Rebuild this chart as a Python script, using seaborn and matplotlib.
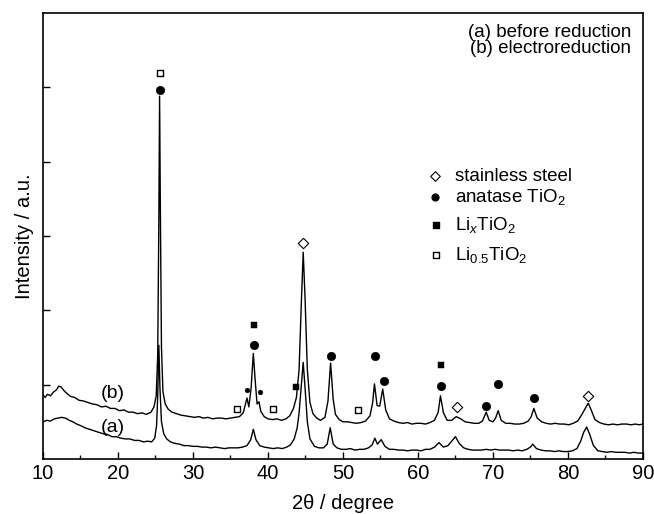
import matplotlib
matplotlib.use("Agg")
import matplotlib.pyplot as plt
import seaborn as sns
import pandas as pd

two_theta_b = [10.0, 10.3, 10.6, 11.0, 11.4, 11.8, 12.1, 12.4, 12.8, 13.2, 13.7, 14.2, 14.8, 15.4,
               16.0, 16.6, 17.2, 17.8, 18.4, 19.0, 19.6, 20.2, 20.8, 21.4, 22.0, 22.6, 23.2, 23.8,
               24.4, 24.8, 25.1, 25.3, 25.45, 25.55, 25.65, 25.8, 26.0, 26.3, 26.7, 27.2, 27.8,
               28.4, 29.0, 29.6, 30.2, 30.8, 31.4, 32.0, 32.6, 33.2, 33.8, 34.4, 35.0, 35.6, 36.2,
               36.7, 37.0, 37.2, 37.45, 37.75, 38.05, 38.3, 38.55, 38.8, 39.05, 39.5, 40.0, 40.6,
               41.2, 41.8, 42.4, 42.9, 43.4, 43.8, 44.15, 44.45, 44.7, 44.95, 45.25, 45.6, 46.0,
               46.5, 47.0, 47.6, 48.0, 48.35, 48.7, 49.0, 49.5, 50.0, 50.6, 51.2, 51.8, 52.4, 53.0,
               53.6, 53.95, 54.2, 54.55, 54.9, 55.3, 55.7, 56.2, 56.8, 57.4, 58.0, 58.6, 59.2, 59.8,
               60.4, 61.0, 61.6, 62.2, 62.7, 63.0, 63.4, 63.9, 64.5, 65.1, 65.7, 66.3, 66.9, 67.5,
               68.1, 68.6, 69.1, 69.5, 70.0, 70.35, 70.7, 71.1, 71.7, 72.3, 72.9, 73.5, 74.1, 74.7,
               75.1, 75.45, 75.9, 76.5, 77.1, 77.7, 78.3, 78.9, 79.5, 80.1, 80.7, 81.3, 81.8, 82.3,
               82.7, 83.1, 83.6, 84.2, 84.8, 85.4, 86.0, 86.6, 87.2, 87.8, 88.4, 89.0, 89.5, 90.0]
intensity_b = [0.86, 0.83, 0.87, 0.85, 0.90, 0.93, 0.98, 0.97, 0.92, 0.88, 0.84, 0.83, 0.79, 0.78,
               0.76, 0.74, 0.73, 0.70, 0.71, 0.68, 0.68, 0.65, 0.66, 0.63, 0.63, 0.61, 0.62, 0.60,
               0.63, 0.70, 0.85, 1.40, 3.20, 4.88, 3.40, 1.50, 0.90, 0.74, 0.67, 0.63, 0.61,
               0.59, 0.58, 0.57, 0.56, 0.57, 0.55, 0.56, 0.54, 0.55, 0.55, 0.54, 0.55, 0.56, 0.57,
               0.62, 0.74, 0.82, 0.70, 0.95, 1.42, 1.05, 0.74, 0.77, 0.64, 0.57, 0.54, 0.53,
               0.54, 0.52, 0.54, 0.58, 0.68, 0.83, 1.20, 2.10, 2.78, 2.15, 1.20, 0.76, 0.61,
               0.55, 0.52, 0.56, 0.78, 1.29, 0.80, 0.60, 0.53, 0.50, 0.50, 0.49, 0.48, 0.49, 0.51,
               0.58, 0.75, 1.01, 0.72, 0.71, 0.94, 0.66, 0.54, 0.51, 0.49, 0.48, 0.49, 0.47, 0.48,
               0.48, 0.47, 0.49, 0.52, 0.63, 0.85, 0.62, 0.52, 0.52, 0.57, 0.54, 0.50, 0.49, 0.48,
               0.48, 0.51, 0.63, 0.52, 0.50, 0.55, 0.65, 0.52, 0.48, 0.48, 0.47, 0.47, 0.48, 0.51,
               0.57, 0.68, 0.55, 0.50, 0.48, 0.47, 0.48, 0.47, 0.47, 0.46, 0.48, 0.51, 0.59, 0.68,
               0.75, 0.66, 0.53, 0.49, 0.47, 0.46, 0.47, 0.46, 0.47, 0.47, 0.46, 0.47, 0.46, 0.47]

two_theta_a = [10.0, 10.5, 11.0, 11.5, 12.0, 12.5, 13.0, 13.5, 14.0, 14.5, 15.0, 15.6, 16.2, 16.8,
               17.4, 18.0, 18.6, 19.2, 19.8, 20.4, 21.0, 21.6, 22.2, 22.8, 23.4, 24.0, 24.5, 24.9,
               25.15, 25.3, 25.45, 25.6, 25.8, 26.1, 26.5, 27.0, 27.6, 28.2, 28.8, 29.4, 30.0, 30.6,
               31.2, 31.8, 32.4, 33.0, 33.6, 34.2, 34.8, 35.4, 36.0, 36.6, 37.2, 37.7, 38.05, 38.4,
               38.9, 39.5, 40.1, 40.7, 41.3, 41.9, 42.5, 43.0, 43.5, 43.9, 44.15, 44.45, 44.7, 44.95,
               45.25, 45.6, 46.2, 46.8, 47.4, 47.9, 48.3, 48.7, 49.2, 49.8, 50.4, 51.0, 51.6, 52.2,
               52.8, 53.4, 53.9, 54.25, 54.6, 55.1, 55.6, 56.2, 56.8, 57.4, 58.0, 58.6, 59.2, 59.8,
               60.4, 61.0, 61.6, 62.2, 62.8, 63.4, 64.0, 64.5, 65.0, 65.5, 66.1, 66.7, 67.3, 67.9,
               68.5, 69.1, 69.7, 70.3, 70.9, 71.5, 72.1, 72.7, 73.3, 73.9, 74.5, 75.0, 75.3, 75.8,
               76.4, 77.0, 77.6, 78.2, 78.8, 79.4, 80.0, 80.6, 81.2, 81.7, 82.1, 82.5, 82.9, 83.4,
               84.0, 84.6, 85.2, 85.8, 86.4, 87.0, 87.6, 88.2, 88.8, 89.4, 90.0]
intensity_a = [0.50, 0.52, 0.51, 0.54, 0.55, 0.56, 0.55, 0.52, 0.50, 0.47, 0.45, 0.42, 0.40, 0.38,
               0.36, 0.34, 0.33, 0.30, 0.30, 0.28, 0.27, 0.27, 0.25, 0.25, 0.23, 0.24, 0.23, 0.28,
               0.45, 0.85, 1.53, 0.95, 0.50, 0.34, 0.27, 0.23, 0.21, 0.20, 0.18, 0.18, 0.17, 0.17,
               0.16, 0.16, 0.15, 0.16, 0.15, 0.14, 0.15, 0.15, 0.15, 0.16, 0.18, 0.26, 0.40, 0.26,
               0.18, 0.16, 0.15, 0.14, 0.15, 0.14, 0.16, 0.19, 0.27, 0.42, 0.62, 1.00, 1.30, 0.95,
               0.50, 0.27, 0.17, 0.15, 0.15, 0.20, 0.42, 0.20, 0.15, 0.13, 0.13, 0.14, 0.12, 0.13,
               0.13, 0.15, 0.19, 0.28, 0.20, 0.26, 0.17, 0.13, 0.13, 0.12, 0.12, 0.11, 0.12, 0.12,
               0.11, 0.13, 0.13, 0.16, 0.22, 0.16, 0.18, 0.24, 0.30, 0.21, 0.15, 0.13, 0.12, 0.12,
               0.12, 0.13, 0.12, 0.13, 0.12, 0.12, 0.12, 0.11, 0.12, 0.11, 0.13, 0.16, 0.20, 0.14,
               0.12, 0.11, 0.11, 0.10, 0.11, 0.10, 0.10, 0.11, 0.14, 0.24, 0.36, 0.43, 0.33, 0.18,
               0.11, 0.10, 0.09, 0.10, 0.09, 0.09, 0.09, 0.08, 0.09, 0.08, 0.08]

# phase markers (2theta, height)
steel_x = [44.67, 65.2, 82.7]
steel_y = [2.90, 0.70, 0.85]
anatase_x = [25.55, 38.1, 48.45, 54.3, 55.5, 63.1, 69.1, 70.7, 75.5]
anatase_y = [4.96, 1.53, 1.38, 1.38, 1.05, 0.98, 0.71, 1.01, 0.82]
anatase_small_x = [37.2, 38.9]
anatase_small_y = [0.93, 0.90]
lix_x = [38.1, 43.7, 63.1]
lix_y = [1.80, 0.97, 1.26]
li05_x = [25.55, 35.9, 40.7, 52.0]
li05_y = [5.19, 0.67, 0.67, 0.66]

legend_labels = ["stainless steel", "anatase TiO$_2$", "Li$_x$TiO$_2$", "Li$_{0.5}$TiO$_2$"]

sns.set_style("ticks")
plt.rcParams["font.family"] = ["Liberation Sans", "DejaVu Sans"]
plt.rcParams["mathtext.fontset"] = "custom"
plt.rcParams["mathtext.rm"] = "Liberation Sans"
plt.rcParams["mathtext.it"] = "Liberation Sans:italic"
plt.rcParams["text.color"] = "black"
plt.rcParams["axes.labelcolor"] = "black"
plt.rcParams["xtick.color"] = "black"
plt.rcParams["ytick.color"] = "black"
plt.rcParams["axes.edgecolor"] = "black"

fig = plt.figure(figsize=(6.54, 5.14), dpi=100)
ax = fig.add_axes([0.0657, 0.107, 0.9174, 0.868])

df_a = pd.DataFrame({"x": two_theta_a, "y": intensity_a})
df_b = pd.DataFrame({"x": two_theta_b, "y": intensity_b})
sns.lineplot(data=df_a, x="x", y="y", color="black", lw=1.0, sort=False, ax=ax)
sns.lineplot(data=df_b, x="x", y="y", color="black", lw=1.0, sort=False, ax=ax)

sns.scatterplot(x=steel_x, y=steel_y, marker="D", s=28, facecolor="white",
                edgecolor="black", linewidth=0.8, ax=ax, zorder=3)
sns.scatterplot(x=anatase_x, y=anatase_y, marker="o", s=36, color="black",
                edgecolor="black", ax=ax, zorder=3)
sns.scatterplot(x=anatase_small_x, y=anatase_small_y, marker="o", s=12, color="black",
                edgecolor="black", ax=ax, zorder=3)
sns.scatterplot(x=lix_x, y=lix_y, marker="s", s=18, color="black",
                edgecolor="black", ax=ax, zorder=3)
sns.scatterplot(x=li05_x, y=li05_y, marker="s", s=22, facecolor="white",
                edgecolor="black", linewidth=1.0, ax=ax, zorder=3)

# hand-made legend
leg_mx = 62.3
leg_tx = 64.9
leg_y = [3.80, 3.52, 3.15, 2.74]
ax.scatter([leg_mx], [leg_y[0]], marker="D", s=24, facecolor="white", edgecolor="black", linewidth=0.8)
ax.scatter([leg_mx], [leg_y[1]], marker="o", s=24, color="black")
ax.scatter([leg_mx + 0.1], [leg_y[2]], marker="s", s=16, color="black")
ax.scatter([leg_mx + 0.1], [leg_y[3]], marker="s", s=20, facecolor="white", edgecolor="black", linewidth=1.0)
for yy, lab in zip(leg_y, legend_labels):
    ax.text(leg_tx, yy, lab, fontsize=13.5, va="center", ha="left")

ax.text(0.98, 0.957, "(a) before reduction", transform=ax.transAxes, fontsize=13.5, ha="right", va="center")
ax.text(0.98, 0.92, "(b) electroreduction", transform=ax.transAxes, fontsize=13.5, ha="right", va="center")
ax.text(19.3, 0.88, "(b)", fontsize=14, ha="center", va="center")
ax.text(19.3, 0.42, "(a)", fontsize=14, ha="center", va="center")

ax.set_xlim(10, 90)
ax.set_ylim(0, 6)
ax.set_xticks(range(10, 91, 10))
ax.set_xticks(range(15, 90, 10), minor=True)
ax.set_yticks([1, 2, 3, 4, 5])
ax.set_yticklabels([])
ax.tick_params(axis="both", which="major", direction="in", length=5, width=1, labelsize=14.5)
ax.tick_params(axis="x", which="minor", direction="in", length=3, width=1)
ax.set_xlabel("2\u03b8 / degree", fontsize=14.5, labelpad=8)
ax.set_ylabel("Intensity / a.u.", fontsize=14.5, labelpad=3)
for sp in ax.spines.values():
    sp.set_linewidth(1.2)

fig.savefig("out.png", dpi=100)
